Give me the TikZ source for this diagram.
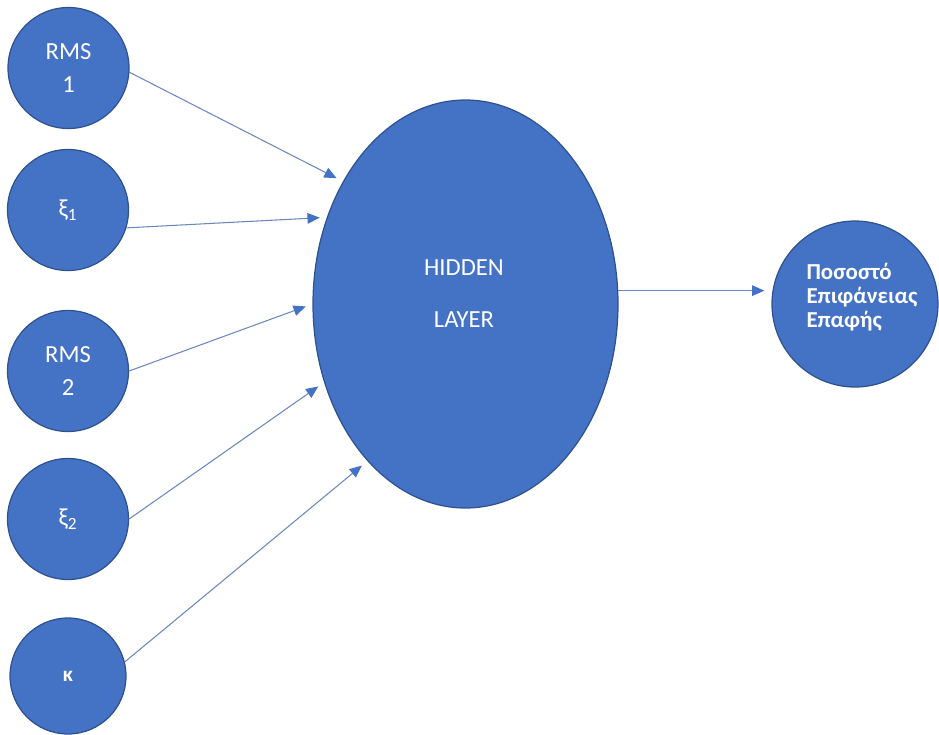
\documentclass[tikz,border=0pt]{standalone}
\usepackage{fontspec}
\setmainfont{Carlito}
\usetikzlibrary{shapes.geometric,arrows.meta}

\definecolor{nodeblue}{HTML}{4472C4}
\definecolor{edgeblue}{HTML}{2F528F}
\definecolor{linkblue}{HTML}{6A87BF}

\tikzset{
  neuron/.style={circle, fill=nodeblue, draw=edgeblue, line width=0.7pt,
    minimum size=2.42cm, inner sep=0pt, text=white, align=center,
    font=\fontsize{14}{19}\selectfont},
  hiddenlayer/.style={ellipse, fill=nodeblue, draw=edgeblue, line width=0.7pt,
    minimum width=6.1cm, minimum height=8.16cm, inner sep=0pt},
  caption/.style={text=white, inner sep=0pt},
  link/.style={linkblue, line width=0.6pt, shorten >=4pt,
    -{Triangle[length=7pt,width=6pt,color=nodeblue]}}
}

\begin{document}
\begin{tikzpicture}
      % Page frame
      \useasboundingbox (0,0) rectangle (18.78,-14.68);

      % Input layer
      \node[neuron] (rms1) at (1.37,-1.36) {RMS\\1};
      \node[neuron] (xi1) at (1.36,-4.20) {ξ\textsubscript{1}};
      \node[neuron] (rms2) at (1.36,-7.42) {RMS\\2};
      \node[neuron] (xi2) at (1.36,-10.38) {ξ\textsubscript{2}};
      \node[neuron, minimum size=2.32cm, font=\bfseries\fontsize{12}{14}\selectfont]
        (kappa) at (1.36,-13.52) {κ};

      % Hidden layer
      \node[hiddenlayer] (hidden) at (9.31,-6.08) {};
      \node[caption, align=center, font=\fontsize{14}{29.6}\selectfont]
        (hiddentext) at (9.28,-5.88) {HIDDEN\\LAYER};

      % Output node
      \node[neuron, minimum size=3.32cm] (out) at (17.1,-6.08) {};
      \node[caption, align=left, font=\bfseries\fontsize{13}{13.7}\selectfont]
        (outtext) at (17.24,-5.94) {Ποσοστό\\Επιφάνειας\\Επαφής};

      % Connections
      \foreach \src/\a/\b in {rms1/-4/135, xi1/-17/148, rms2/0/180, xi2/0/209, kappa/14/238}
        \draw[link] (\src.\a) -- (hidden.\b);
      \draw[link] (hidden.5) -- (hidden.5 -| out.west);
\end{tikzpicture}
\end{document}
